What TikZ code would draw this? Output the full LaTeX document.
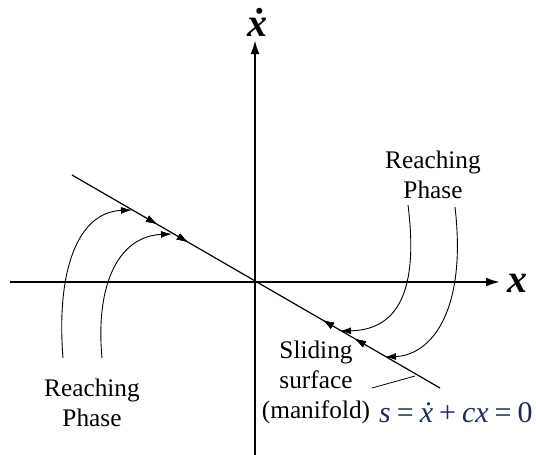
\documentclass[tikz,border=0pt]{standalone}
\usepackage{fontspec}
\setmainfont{Liberation Serif}
\usetikzlibrary{arrows.meta,decorations.markings}
\definecolor{eqblue}{HTML}{1F2D55}
\begin{document}
\begin{tikzpicture}[x=1pt,y=-1pt,
  axisline/.style={line width=2.2pt,-{Latex[length=14pt,width=9pt]}},
  slideline/.style={line width=1.2pt},
  reach/.style={line width=0.9pt,-{Latex[length=11pt,width=7pt]}},
  lbl/.style={inner sep=0pt,align=center,font=\fontsize{25.3}{30}\selectfont},
  axlbl/.style={inner sep=0pt,font=\fontsize{40}{42}\selectfont\bfseries\itshape},
  fwd/.style={postaction={decorate},decoration={markings,
     mark=at position #1 with {\arrow{Latex[length=11pt,width=7pt]}}}},
  bwd/.style={postaction={decorate},decoration={markings,
     mark=at position #1 with {\arrowreversed{Latex[length=11pt,width=7pt]}}}}
]
\useasboundingbox (0,0) rectangle (536,455);
% axes
\coordinate (xl) at (10,282);
\coordinate (xr) at (500,282);
\coordinate (yb) at (255,455);
\coordinate (yt) at (255,40);
\draw[axisline] (xl) -- (xr);
\draw[axisline] (yb) -- (yt);
\node[axlbl] (xlab) at (517,283) {x};
\node[axlbl] (xdlab) at (257,22) {\.{x}};
% sliding line
\coordinate (s1) at (72,175);
\coordinate (s2) at (440,388);
\draw[slideline,fwd=0.231,fwd=0.315,bwd=0.682,bwd=0.769] (s1) -- (s2);
% reaching curves, left
\coordinate (a1) at (63,358);
\coordinate (t1) at (132,210);
\coordinate (a2) at (102,358);
\coordinate (t2) at (172,234);
\draw[reach] (a1) .. controls (56,270) and (78,212) .. (t1);
\draw[reach] (a2) .. controls (95,282) and (120,236) .. (t2);
% reaching curves, right
\coordinate (b1) at (408,205);
\coordinate (u1) at (340,331);
\coordinate (b2) at (455,207);
\coordinate (u2) at (385,357);
\draw[reach] (b1) .. controls (420,300) and (392,330) .. (u1);
\draw[reach] (b2) .. controls (467,310) and (432,355) .. (u2);
% labels
\node[lbl] (rpl) at (92,403) {Reaching\\Phase};
\node[lbl] (rpr) at (433,175) {Reaching\\Phase};
\node[lbl] (sl) at (316,382) {Sliding\\surface\\(manifold)};
\coordinate (ld1) at (372,388);
\coordinate (ld2) at (415,376);
\draw[line width=0.8pt] (ld1) -- (ld2);
\node[inner sep=0pt,anchor=base west,text=eqblue,font=\fontsize{30}{32}\selectfont] (eq) at (379,422)
  {\textit{s}\hspace{6pt}=\hspace{6pt}\textit{\.{x}}\hspace{6pt}+\hspace{6pt}\textit{cx}\hspace{6pt}=\hspace{6pt}0};
\end{tikzpicture}
\end{document}
